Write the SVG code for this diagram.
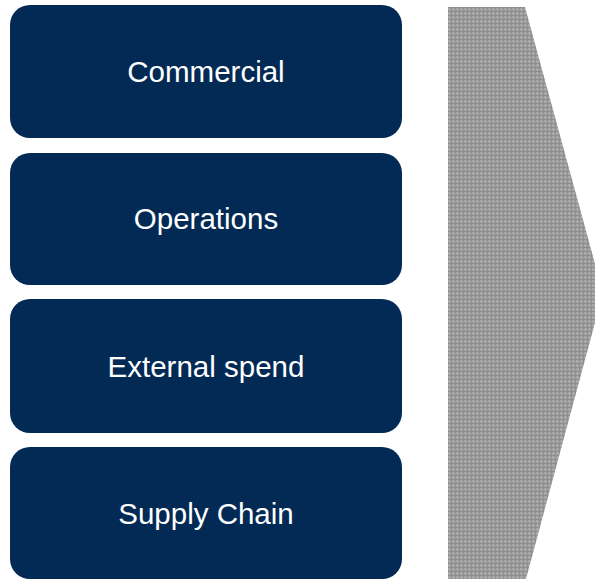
<svg xmlns="http://www.w3.org/2000/svg" width="595" height="581" viewBox="0 0 595 581">
  <defs>
    <!-- fine halftone-like gray fill for the chevron -->
    <pattern id="grain" width="4" height="4" patternUnits="userSpaceOnUse">
      <rect width="4" height="4" fill="#a4a4a4"/>
      <rect x="0" y="3" width="4" height="1" fill="#8e8e8e"/>
      <rect x="3" y="0" width="1" height="4" fill="#8e8e8e"/>
      <rect x="1" y="1" width="1" height="1" fill="#bababa"/>
    </pattern>
    <style>
      .box { fill: #022a55; }
      .label { font-family: "Liberation Sans", Arial, sans-serif; font-size: 29.5px; fill: #ffffff; text-anchor: middle; }
    </style>
  </defs>

  <g id="commercial">
    <rect class="box" x="10" y="5" width="392" height="133" rx="20" ry="20"/>
    <text class="label" x="206" y="82">Commercial</text>
  </g>
  <g id="operations">
    <rect class="box" x="10" y="153" width="392" height="132" rx="20" ry="20"/>
    <text class="label" x="206" y="229">Operations</text>
  </g>
  <g id="external-spend">
    <rect class="box" x="10" y="299" width="392" height="134" rx="20" ry="20"/>
    <text class="label" x="206" y="377">External spend</text>
  </g>
  <g id="supply-chain">
    <rect class="box" x="10" y="447" width="392" height="132" rx="20" ry="20"/>
    <text class="label" x="206" y="524">Supply Chain</text>
  </g>

  <g id="connectors">
    <polygon id="chevron" points="448,7 525,7 603,293 526,579 448,579" fill="url(#grain)"/>
  </g>
</svg>
